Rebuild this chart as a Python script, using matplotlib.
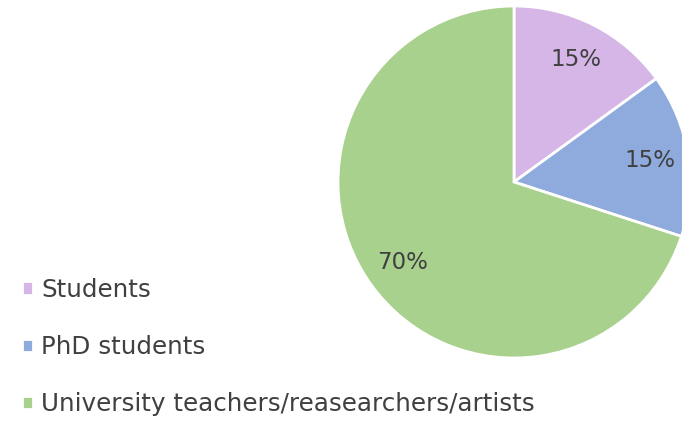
import matplotlib.pyplot as plt

labels = ["Students", "PhD students", "University teachers/reasearchers/artists"]
shares = [15, 15, 70]
colors = ["#D5B6E6", "#8FAADC", "#A9D18E"]
txt = "#404040"

fig = plt.figure(figsize=(6.82, 4.21), dpi=100)
ax = fig.add_axes([338 / 682, 63 / 421, 352 / 682, 352 / 421])

wedges, _, pcts = ax.pie(shares, colors=colors, startangle=90, counterclock=False,
                         autopct="%1.0f%%", pctdistance=0.78, radius=1,
                         wedgeprops=dict(edgecolor="white", linewidth=2),
                         textprops=dict(color=txt, fontsize=16.5))
ax.set_xlim(-1, 1)
ax.set_ylim(-1, 1)
ax.set_aspect("equal")

leg = fig.legend(wedges, labels, loc="upper left", bbox_to_anchor=(0.032, 0.34),
                 frameon=False, fontsize=17.7, handlelength=0.45, handleheight=0.45,
                 handletextpad=0.35, labelspacing=1.35, borderaxespad=0, borderpad=0)
for t in leg.get_texts():
    t.set_color(txt)

fig.savefig("out.png", dpi=100)
